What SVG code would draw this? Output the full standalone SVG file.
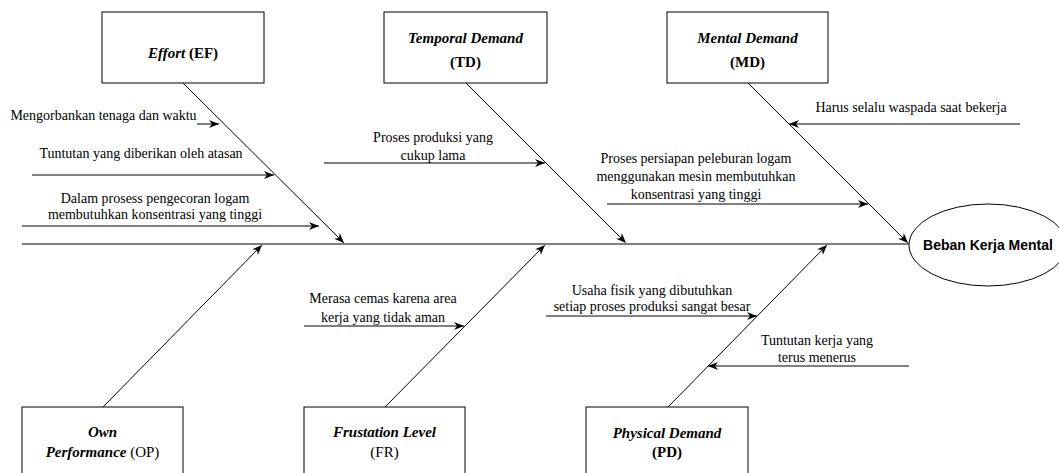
<svg xmlns="http://www.w3.org/2000/svg" width="1059" height="473" viewBox="0 0 1059 473">
<style>
.box{fill:#fff;stroke:#000;stroke-width:1}
.ln{stroke:#000;stroke-width:1;fill:none}
.spine{stroke:#555;stroke-width:1.6;fill:none}
.t{font-family:"Liberation Serif","Times New Roman",serif;font-size:14px;fill:#000;text-anchor:middle}
.h{font-family:"Liberation Serif","Times New Roman",serif;font-size:15px;fill:#000;text-anchor:middle;font-weight:bold}
.i{font-style:italic}
.n{font-weight:normal}
.e{font-family:"Liberation Sans",Arial,sans-serif;font-size:14px;font-weight:bold;fill:#000;text-anchor:middle}
</style>
<defs>
<marker id="arr" viewBox="0 0 10 8" refX="10" refY="4" markerWidth="10" markerHeight="8" markerUnits="userSpaceOnUse" orient="auto">
<path d="M0,0 L10,4 L0,8 L3,4 z" fill="#000"/>
</marker>
</defs>
<g id="connectors">
<line class="spine" x1="22" y1="244" x2="909" y2="244"/>
<line class="ln" x1="183" y1="83" x2="344" y2="243" marker-end="url(#arr)"/>
<line class="ln" x1="466" y1="83" x2="626" y2="243" marker-end="url(#arr)"/>
<line class="ln" x1="748" y1="83" x2="908" y2="243" marker-end="url(#arr)"/>
<line class="ln" x1="103" y1="407" x2="262" y2="245" marker-end="url(#arr)"/>
<line class="ln" x1="385" y1="407" x2="545" y2="245" marker-end="url(#arr)"/>
<line class="ln" x1="668" y1="407" x2="827" y2="245" marker-end="url(#arr)"/>
<line class="ln" x1="197" y1="124" x2="219" y2="124" marker-end="url(#arr)"/>
<line class="ln" x1="32" y1="175" x2="274" y2="175" marker-end="url(#arr)"/>
<line class="ln" x1="22" y1="226" x2="319" y2="226" marker-end="url(#arr)"/>
<line class="ln" x1="324" y1="163" x2="545" y2="163" marker-end="url(#arr)"/>
<line class="ln" x1="1020" y1="124" x2="789" y2="124" marker-end="url(#arr)"/>
<line class="ln" x1="607" y1="204" x2="868" y2="204" marker-end="url(#arr)"/>
<line class="ln" x1="304" y1="326" x2="464" y2="326" marker-end="url(#arr)"/>
<line class="ln" x1="546" y1="316" x2="757" y2="316" marker-end="url(#arr)"/>
<line class="ln" x1="909" y1="366" x2="708" y2="366" marker-end="url(#arr)"/>
</g>
<g id="labels">
<text class="t" x="103.5" y="120">Mengorbankan tenaga dan waktu</text>
<text class="t" x="141" y="158">Tuntutan yang diberikan oleh atasan</text>
<text class="t" x="155" y="203">Dalam prosess pengecoran logam</text>
<text class="t" x="155" y="219">membutuhkan konsentrasi yang tinggi</text>
<text class="t" x="433" y="142">Proses produksi yang</text>
<text class="t" x="433" y="160">cukup lama</text>
<text class="t" x="911" y="112">Harus selalu waspada saat bekerja</text>
<text class="t" x="696" y="163">Proses persiapan peleburan logam</text>
<text class="t" x="696" y="181">menggunakan mesin membutuhkan</text>
<text class="t" x="696" y="199">konsentrasi yang tinggi</text>
<text class="t" x="383" y="303">Merasa cemas karena area</text>
<text class="t" x="383" y="322">kerja yang tidak aman</text>
<text class="t" x="652" y="295">Usaha fisik yang dibutuhkan</text>
<text class="t" x="652" y="311">setiap proses produksi sangat besar</text>
<text class="t" x="817" y="345">Tuntutan kerja yang</text>
<text class="t" x="817" y="362">terus menerus</text>
</g>
<g id="node-ef">
<rect class="box" x="102" y="12" width="162" height="71"/>
<text class="h" x="183" y="58"><tspan class="i">Effort</tspan> (EF)</text>
</g>
<g id="node-td">
<rect class="box" x="384" y="12" width="163" height="71"/>
<text class="h" x="465.5" y="43"><tspan class="i">Temporal Demand</tspan></text>
<text class="h" x="465.5" y="67">(TD)</text>
</g>
<g id="node-md">
<rect class="box" x="667" y="12" width="161" height="71"/>
<text class="h" x="747.5" y="43"><tspan class="i">Mental Demand</tspan></text>
<text class="h" x="747.5" y="67">(MD)</text>
</g>
<g id="node-op">
<rect class="box" x="22" y="407" width="161" height="71"/>
<text class="h" x="102.5" y="437"><tspan class="i">Own</tspan></text>
<text class="h" x="102.5" y="457"><tspan class="i">Performance</tspan><tspan class="n"> (OP)</tspan></text>
</g>
<g id="node-fr">
<rect class="box" x="304" y="407" width="161" height="71"/>
<text class="h" x="384.5" y="437"><tspan class="i">Frustation Level</tspan></text>
<text class="h n" x="384.5" y="457">(FR)</text>
</g>
<g id="node-pd">
<rect class="box" x="586" y="407" width="162" height="71"/>
<text class="h" x="667" y="438"><tspan class="i">Physical Demand</tspan></text>
<text class="h" x="667" y="457">(PD)</text>
</g>
<g id="node-beban">
<ellipse class="box" cx="988" cy="245" rx="79" ry="41"/>
<text class="e" x="988" y="250">Beban Kerja Mental</text>
</g>
</svg>
